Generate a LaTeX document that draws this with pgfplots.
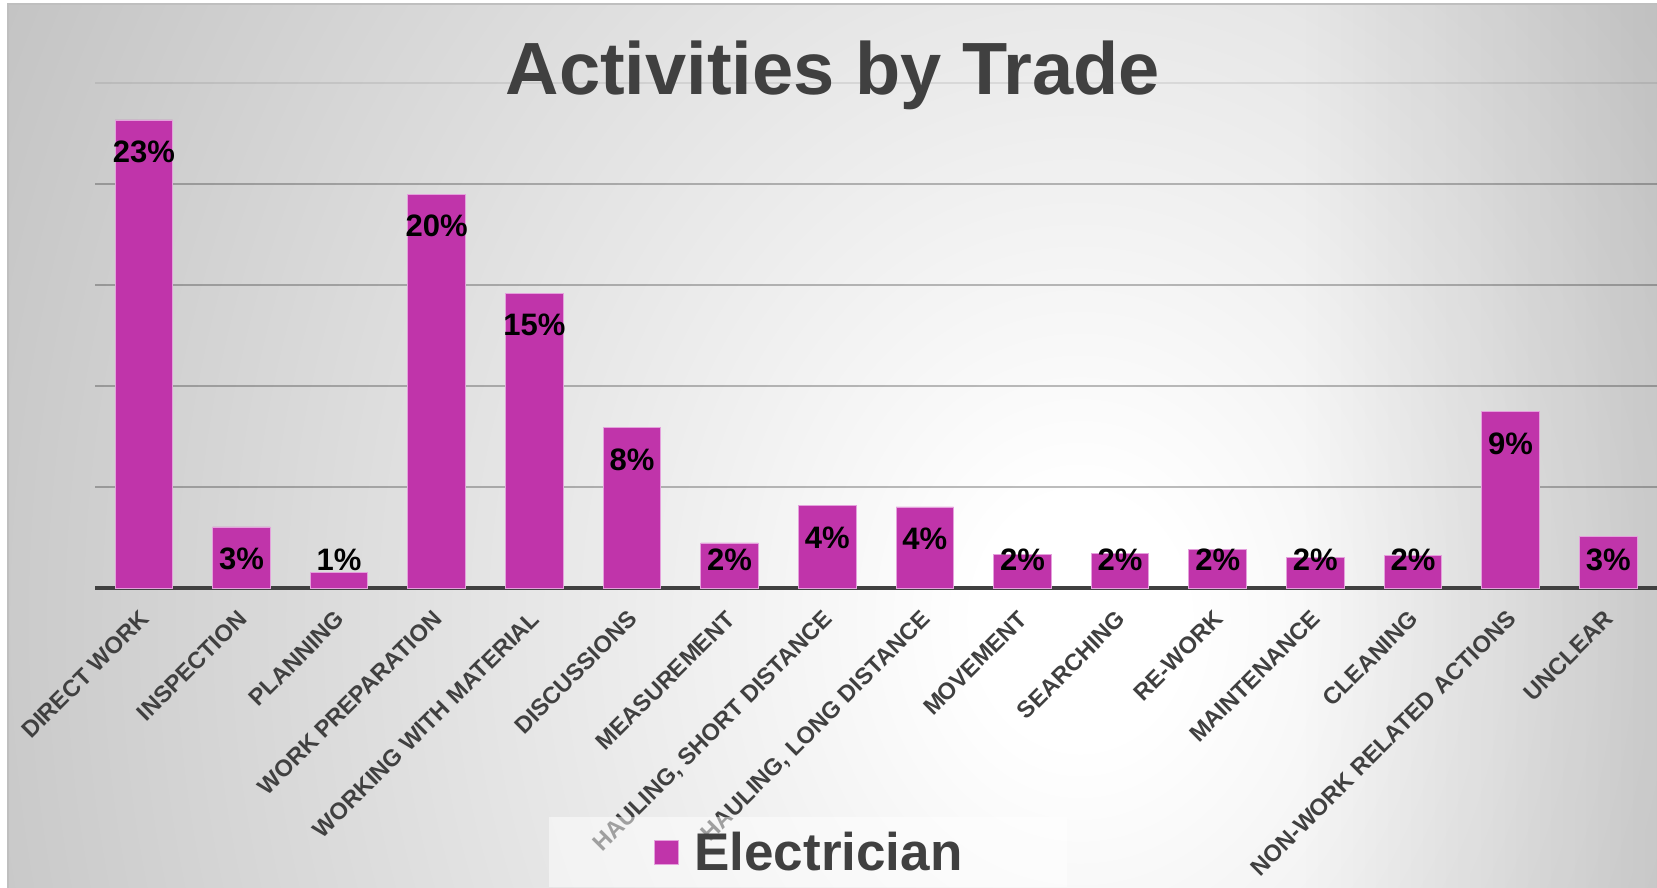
\documentclass[border=0pt]{standalone}
\usepackage{fontspec}
\setmainfont{Liberation Sans}
\usepackage{pgfplots}
\pgfplotsset{compat=1.18}
\usepackage{pgfplotstable}
\definecolor{barcol}{RGB}{192,52,170}
\definecolor{barline}{RGB}{228,160,220}
\definecolor{txtgray}{RGB}{64,64,64}
\definecolor{bgedge}{RGB}{190,190,190}
\pgfdeclareradialshading{bgshade}{\pgfpoint{0bp}{0bp}}{color(0bp)=(white); color(2bp)=(white); color(25bp)=(bgedge); color(50bp)=(bgedge)}

\pgfplotstableread{
x v lab
0 23.17 23\%
1 3.02 3\%
2 0.76 1\%
3 19.49 20\%
4 14.60 15\%
5 7.95 8\%
6 2.23 2\%
7 4.09 4\%
8 4.01 4\%
9 1.68 2\%
10 1.71 2\%
11 1.91 2\%
12 1.50 2\%
13 1.60 2\%
14 8.73 9\%
15 2.55 3\%
}\datatab

\begin{document}
\begin{tikzpicture}
\path[use as bounding box] (0,0) rectangle (1657pt,888pt);
\fill[white] (0,0) rectangle (1657pt,888pt);
\begin{scope}
\clip (8pt,0pt) rectangle (1657pt,884pt);
\shade[shading=bgshade] (1080pt,268pt) ellipse [x radius=1300pt, y radius=1540pt];
\shade[left color=white, right color=black!12, blend mode=multiply] (1300pt,0pt) rectangle (1657pt,884pt);
\end{scope}
\draw[black!25, line width=1.2pt] (8pt,0pt) -- (8pt,884pt) -- (1657pt,884pt);

\begin{axis}[
  at={(95pt,300pt)}, anchor=south west, scale only axis,
  width=1562pt, height=505pt,
  xmin=-0.5, xmax=15.5, ymin=0, ymax=25,
  enlargelimits=false, clip=false,
  axis x line*=bottom, axis y line*=left,
  x axis line style={draw=txtgray, line width=3.3pt, -},
  y axis line style={draw=none},
  tick style={draw=none}, major tick length=0pt,
  ytick={5,10,15,20}, yticklabels={},
  extra y ticks={25}, extra y tick labels={},
  extra y tick style={major grid style={draw=black, opacity=0.08, line width=1.3pt}},
  ymajorgrids,
  major grid style={draw=black, opacity=0.26, line width=1.3pt},
  xtick={0,...,15},
  xticklabels={DIRECT WORK, INSPECTION, PLANNING, WORK PREPARATION, WORKING WITH MATERIAL, DISCUSSIONS, MEASUREMENT, {HAULING, SHORT DISTANCE}, {HAULING, LONG DISTANCE}, MOVEMENT, SEARCHING, RE-WORK, MAINTENANCE, CLEANING, NON-WORK RELATED ACTIONS, UNCLEAR},
  xticklabel style={xshift=-5pt, yshift=-21pt, rotate=45, anchor=north east, inner sep=0pt, font=\bfseries\fontsize{23.5}{23.5}\selectfont, text=txtgray},
  title={Activities by Trade},
  title style={at={(0.4722,0.966)}, anchor=base, font=\bfseries\fontsize{74}{74}\selectfont, text=txtgray, inner sep=0pt},
  legend style={at={(0.4565,-0.5228)}, anchor=center, draw=none, fill=white, fill opacity=0.5, text opacity=1, inner xsep=105pt, inner ysep=15pt, font=\bfseries\fontsize{53}{53}\selectfont, text=txtgray, nodes={inner sep=0pt}, /tikz/every odd column/.append style={column sep=16pt}},
  ybar, bar width=57.6pt,
]
\addplot[fill=barcol, draw=barline, line width=0.8pt, bar shift=0pt,
  nodes near coords, point meta=explicit symbolic,
  visualization depends on={\thisrow{v} \as \rawv},
  nodes near coords style={font=\bfseries\fontsize{31}{31}\selectfont, text=black, anchor=center, yshift={max(-32,28-20.2*\rawv)*1pt}},
  legend image code/.code={\fill[barcol, fill opacity=1, draw=barline, draw opacity=1, line width=0.8pt] (0pt,-12pt) rectangle (24pt,12pt);}]
  table[x=x, y=v, meta=lab] {\datatab};
\addlegendentry{Electrician}
\end{axis}
\end{tikzpicture}
\end{document}
